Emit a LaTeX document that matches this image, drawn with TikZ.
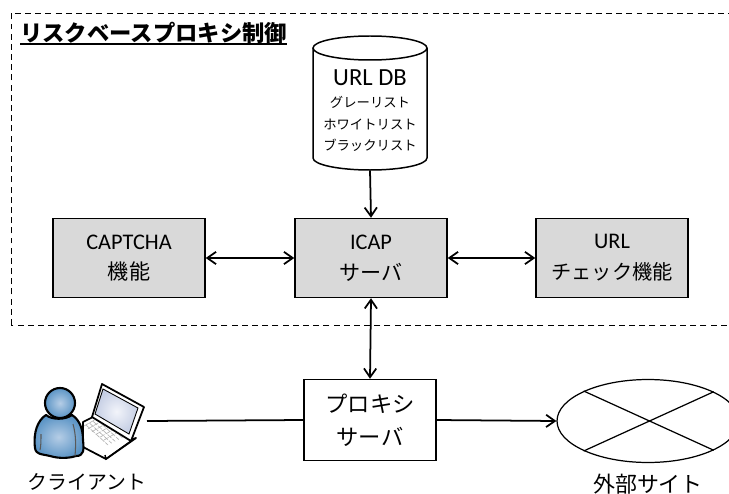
\documentclass[tikz,border=0pt]{standalone}
\usepackage{fontspec}
\setmainfont{Carlito}
\newfontfamily\jpfont{Noto Sans CJK JP}
\usetikzlibrary{shapes.geometric,arrows.meta}
\definecolor{boxgray}{HTML}{D9D9D9}
\definecolor{userblue}{HTML}{5B94C5}
\definecolor{userlight}{HTML}{B5CDE6}
\definecolor{screenlight}{HTML}{F2F4FA}
\definecolor{screenblue}{HTML}{C5CEE4}
\tikzset{
    funcbox/.style={draw,line width=0.85pt,fill=boxgray,minimum width=3.04cm,minimum height=1.58cm,align=center,font=\fontsize{12.7}{17.5}\selectfont,inner sep=0pt},
    link/.style={line width=1pt,-{Straight Barb[length=5pt,width=7pt]}},
    both/.style={line width=1pt,{Straight Barb[length=5pt,width=7pt]}-{Straight Barb[length=5pt,width=7pt]}},
    caption/.style={font=\jpfont\fontsize{12.5}{14}\selectfont,inner sep=0pt}
}
\begin{document}
\begin{tikzpicture}[x=0.02cm,y=-0.02cm]
    \clip (0,0) rectangle (729,493);

    % marco
    \draw[line width=0.5pt,dash pattern=on 3.4pt off 2.4pt] (11,325) -- (11,13) -- (760,13) -- (760,325) -- cycle;
    \node[anchor=west,inner sep=0pt,font=\jpfont\bfseries\fontsize{12.7}{14}\selectfont] (title) at (20,33) {リスクベースプロキシ制御};
    \draw[line width=1pt] (title.west |- 0,44) -- (title.east |- 0,44);

    % db
    \draw[line width=0.85pt,fill=white] (313,48) -- (313,158) arc[start angle=180,end angle=0,x radius=57,y radius=12] -- (427,48);
    \draw[line width=0.85pt] (370,48) circle[x radius=57,y radius=12];
    \node[align=center,inner sep=0pt,minimum width=2.28cm,minimum height=2.68cm] (urldb) at (370,103) {};
    \node[align=center,inner sep=0pt,anchor=north] (dbtext) at (370,69) {\fontsize{14}{15}\selectfont URL DB\\[1pt]\jpfont\fontsize{7.6}{11.3}\selectfont グレーリスト\\\jpfont\fontsize{7.6}{11.3}\selectfont ホワイトリスト\\\jpfont\fontsize{7.6}{11.3}\selectfont ブラックリスト};

    \node[funcbox] (captcha) at (129,258) {CAPTCHA\\\jpfont\fontsize{12}{17.5}\selectfont 機能};
    \node[funcbox] (icap) at (371,258) {ICAP\\\jpfont\fontsize{12}{17.5}\selectfont サーバ};
    \node[funcbox] (urlcheck) at (612,258) {URL\\\jpfont\fontsize{11.5}{17.5}\selectfont チェック機能};
    \node[draw,line width=0.85pt,minimum width=2.64cm,minimum height=1.62cm,align=center,inner sep=0pt,font=\jpfont\fontsize{12.7}{19}\selectfont] (proxy) at (370,420) {プロキシ\\サーバ};
    \node[draw,line width=0.7pt,shape=ellipse,minimum width=3.64cm,minimum height=1.66cm,inner sep=0pt] (site) at (648,421) {};

    \draw[line width=0.7pt] (site.155.6) -- (site.-24.4);
    \draw[line width=0.7pt] (site.-155.6) -- (site.24.4);

    \draw[link] (urldb.south) -- (icap.north);
    \draw[both] (captcha.east) -- (icap.west);
    \draw[both] (icap.east) -- (urlcheck.west);
    \draw[both] (icap.south) -- (proxy.north);
    \draw[link] (proxy.east) -- (site.west);

    \coordinate (clientend) at (147,421);
    \draw[line width=1pt] (clientend) -- (proxy.west);

    % portatil
    \draw[line width=1pt,fill=white,line join=round] (83,422) -- (95,416) -- (130,440) -- (136,438) -- (106,459) -- (83,447) -- cycle;
    \foreach \i in {0,...,5} {
        \draw[gray!60,line width=0.35pt,dash pattern=on 3pt off 0.7pt] (86+\i*3.6,425-\i*1.8) -- (108+\i*3.6,451-\i*1.8-6);
    }
    \foreach \i in {0,...,5} {
        \draw[gray!60,line width=0.35pt,dash pattern=on 3pt off 0.7pt] (84+\i*4,426+\i*2.8) -- (98+\i*4,418+\i*2.8);
    }
    \draw[line width=1pt,fill=white,line join=round] (102,384) -- (144,407) -- (131,441) -- (92,417) -- cycle;
    \shade[draw,line width=0.5pt,inner color=screenlight,outer color=screenblue] (103,389) -- (138,408) -- (129,434) -- (95,414) -- cycle;
    \draw[line width=0.8pt] (131,441) -- (106,459) -- (105,455);

    % persona
    \shade[draw,line width=1.2pt,inner color=userlight,outer color=userblue,line join=round] (46,415) .. controls (38,420) and (33,432) .. (35,448) .. controls (36,455) and (42,454) .. (50,456) .. controls (60,459) and (70,458) .. (76,456) .. controls (84,456) and (84,450) .. (83,440) .. controls (83,430) and (80,420) .. (72,415) .. controls (65,420) and (52,420) .. (46,415) -- cycle;
    \draw[gray!70!black,line width=0.6pt] (41,434) .. controls (41,440) and (41,446) .. (40,450);
    \draw[gray!70!black,line width=0.6pt] (73,424) .. controls (76,435) and (76,444) .. (75,456);
    \shade[draw,line width=1.2pt,inner color=userlight,outer color=userblue] (60,403) circle (15);

    \node[caption,font=\jpfont\fontsize{11.3}{14}\selectfont] (client) at (87,482) {クライアント};
    \node[caption] (sitelabel) at (648,484) {外部サイト};

\end{tikzpicture}
\end{document}
